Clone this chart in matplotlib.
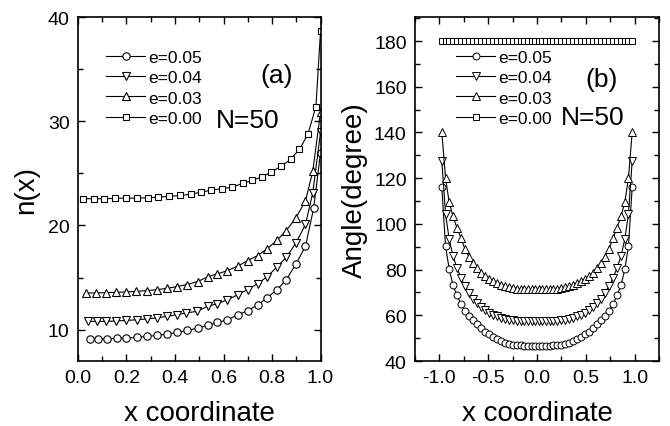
import matplotlib
matplotlib.use("Agg")
import matplotlib.pyplot as plt
from matplotlib.ticker import MultipleLocator, FormatStrFormatter

plt.rcParams['font.family'] = ['Liberation Sans', 'DejaVu Sans']

# ---- panel (a): density n(x), half chain (x >= 0) ----
x_a005 = [0.048, 0.083, 0.120, 0.159, 0.200, 0.242, 0.283, 0.324, 0.368, 0.410, 0.451, 0.493,
          0.534, 0.575, 0.616, 0.658, 0.699, 0.741, 0.779, 0.821, 0.859, 0.899, 0.938, 0.972, 1.0]
n_a005 = [9.11, 9.11, 9.13, 9.16, 9.20, 9.26, 9.36, 9.45, 9.59, 9.74, 9.93, 10.16,
          10.41, 10.70, 10.96, 11.41, 11.83, 12.38, 13.05, 13.85, 14.81, 16.32, 18.01, 21.70, 27.0]

x_a004 = [0.041, 0.080, 0.117, 0.156, 0.200, 0.242, 0.283, 0.324, 0.366, 0.407, 0.446, 0.490,
          0.534, 0.575, 0.616, 0.658, 0.699, 0.741, 0.779, 0.821, 0.859, 0.899, 0.938, 0.968, 1.0]
n_a004 = [10.80, 10.80, 10.80, 10.84, 10.89, 10.96, 11.03, 11.13, 11.28, 11.44, 11.61, 11.76,
          12.24, 12.50, 12.88, 13.34, 13.85, 14.42, 15.07, 16.03, 16.95, 18.34, 20.10, 23.14, 28.94]

x_a003 = [0.035, 0.076, 0.115, 0.156, 0.197, 0.239, 0.283, 0.326, 0.366, 0.407, 0.448, 0.493,
          0.534, 0.575, 0.616, 0.658, 0.699, 0.741, 0.779, 0.821, 0.859, 0.899, 0.938, 0.968, 1.0]
n_a003 = [13.53, 13.53, 13.56, 13.59, 13.63, 13.68, 13.75, 13.85, 13.97, 14.13, 14.33, 14.62,
          15.07, 15.36, 15.67, 16.09, 16.63, 17.12, 17.76, 18.59, 19.52, 20.74, 22.38, 25.19, 30.87]

x_a000 = [0.021, 0.065, 0.108, 0.152, 0.196, 0.242, 0.287, 0.331, 0.376, 0.421, 0.466, 0.508,
          0.549, 0.593, 0.636, 0.679, 0.719, 0.760, 0.797, 0.839, 0.877, 0.913, 0.948, 0.981, 1.0]
n_a000 = [22.57, 22.57, 22.57, 22.60, 22.63, 22.63, 22.66, 22.72, 22.79, 22.88, 23.00, 23.20,
          23.39, 23.53, 23.68, 24.04, 24.33, 24.68, 25.13, 25.70, 26.35, 27.31, 28.75, 31.41, 38.63]

# ---- panel (b): angle, symmetric chain, values listed from the edge inward ----
x_b_half = [0.975, 0.937, 0.900, 0.861, 0.821, 0.780, 0.738, 0.696, 0.654, 0.612, 0.570, 0.528,
            0.487, 0.446, 0.405, 0.364, 0.324, 0.284, 0.244, 0.206, 0.168, 0.130, 0.093, 0.056, 0.019]
ang_005 = [116.0, 90.2, 80.3, 73.2, 68.8, 65.0, 62.0, 59.8, 57.9, 56.0, 54.4, 52.8,
           51.7, 50.5, 49.6, 48.8, 48.0, 47.6, 47.2, 46.9, 46.8, 46.7, 46.6, 46.6, 46.6]
ang_004 = [127.5, 104.3, 93.4, 86.0, 80.8, 76.5, 72.8, 69.8, 67.3, 65.2, 63.6, 62.3,
           61.2, 60.3, 59.6, 59.0, 58.5, 58.1, 57.8, 57.6, 57.5, 57.4, 57.3, 57.3, 57.3]
ang_003 = [140.0, 120.0, 109.5, 103.3, 98.4, 93.8, 89.0, 85.5, 82.8, 80.6, 78.5, 77.0,
           75.8, 74.8, 74.0, 73.3, 72.8, 72.3, 72.0, 71.7, 71.5, 71.4, 71.3, 71.3, 71.3]
ang_000 = [180.0] * 25

labels = ['e=0.05', 'e=0.04', 'e=0.03', 'e=0.00']
markers = ['o', 'v', '^', 's']


def full(half):
    # mirror the half chain onto x < 0
    return [-v for v in half] + half[::-1]


def sym(half):
    return half + half[::-1]


def style_axes(ax):
    ax.tick_params(which='both', direction='in', top=True, right=True, width=1.0,
                   labelsize=14, pad=6)
    ax.tick_params(which='major', length=5)
    ax.tick_params(which='minor', length=3.5)
    for s in ax.spines.values():
        s.set_linewidth(1.2)


def add_legend(ax, x0):
    ax.legend(loc='upper left', bbox_to_anchor=(x0, 0.905), frameon=False, fontsize=12.5,
              handlelength=2.25, handletextpad=0.2, borderpad=0, borderaxespad=0,
              labelspacing=0.3)


fig = plt.figure(figsize=(6.7, 4.27), dpi=100)
ax1 = fig.add_axes([0.1164, 0.1522, 0.362, 0.8056])
ax2 = fig.add_axes([0.6194, 0.1522, 0.3642, 0.8056])

# panel (a)
xa = [x_a005, x_a004, x_a003, x_a000]
na = [n_a005, n_a004, n_a003, n_a000]
sizes_a = [5.3, 5.8, 5.8, 4.8]
for xs, ys, m, ms, lab in zip(xa, na, markers, sizes_a, labels):
    ax1.plot(xs, ys, color='black', lw=0.8, marker=m, ms=ms, mfc='white',
             mec='black', mew=0.8, label=lab)
ax1.set_xlim(0, 1.0)
ax1.set_ylim(7, 40)
ax1.xaxis.set_major_locator(MultipleLocator(0.2))
ax1.xaxis.set_minor_locator(MultipleLocator(0.1))
ax1.yaxis.set_major_locator(MultipleLocator(10))
ax1.yaxis.set_minor_locator(MultipleLocator(5))
ax1.xaxis.set_major_formatter(FormatStrFormatter('%.1f'))
ax1.set_xlabel('x coordinate', fontsize=20, labelpad=10)
ax1.set_ylabel('n(x)', fontsize=20, labelpad=6)
style_axes(ax1)
add_legend(ax1, 0.116)
ax1.text(0.82, 0.83, '(a)', transform=ax1.transAxes, fontsize=19, ha='center', va='center')
ax1.text(0.70, 0.70, 'N=50', transform=ax1.transAxes, fontsize=19, ha='center', va='center')

# panel (b)
xb = full(x_b_half)
angs = [ang_005, ang_004, ang_003, ang_000]
sizes_b = [5.0, 5.2, 5.2, 3.8]
for ys, m, ms, lab in zip(angs, markers, sizes_b, labels):
    ax2.plot(xb, sym(ys), color='black', lw=0.8, marker=m, ms=ms, mfc='white',
             mec='black', mew=0.7, label=lab)
ax2.set_xlim(-1.25, 1.25)
ax2.set_ylim(40, 190.5)
ax2.set_xticks([-1.0, -0.5, 0.0, 0.5, 1.0])
ax2.xaxis.set_minor_locator(MultipleLocator(0.25))
ax2.yaxis.set_major_locator(MultipleLocator(20))
ax2.yaxis.set_minor_locator(MultipleLocator(10))
ax2.xaxis.set_major_formatter(FormatStrFormatter('%.1f'))
ax2.set_xlabel('x coordinate', fontsize=20, labelpad=10)
ax2.set_ylabel('Angle(degree)', fontsize=20, labelpad=4)
style_axes(ax2)
add_legend(ax2, 0.168)
ax2.text(0.765, 0.82, '(b)', transform=ax2.transAxes, fontsize=19, ha='center', va='center')
ax2.text(0.73, 0.71, 'N=50', transform=ax2.transAxes, fontsize=19, ha='center', va='center')

fig.savefig('out.png', dpi=100)
